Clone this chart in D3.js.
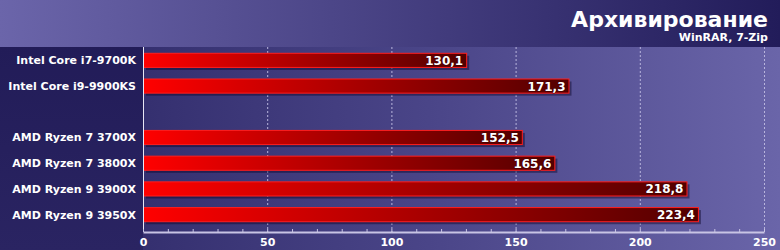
<!DOCTYPE html>
<html>
<head>
<meta charset="utf-8">
<script src="https://cdn.jsdelivr.net/npm/d3@7"></script>
<style>
  body { margin: 0; background: #221c5a; }
  svg { display: block; }
  text { font-family: "DejaVu Sans", Verdana, sans-serif; font-weight: bold; }
</style>
</head>
<body>
<div id="chart"></div>
<script>
var categories = ["Intel Core i7-9700K", "Intel Core i9-9900KS",
                  "AMD Ryzen 7 3700X", "AMD Ryzen 7 3800X",
                  "AMD Ryzen 9 3900X", "AMD Ryzen 9 3950X"];
var values = [130.1, 171.3, 152.5, 165.6, 218.8, 223.4];
var groupBreaks = [2];            // empty slot goes before this index
var axisTicks = [0, 50, 100, 150, 200, 250];
var title = "Архивирование";
var subtitle = "WinRAR, 7-Zip";

var width = 780, height = 250,
    margin = {top: 47, right: 16, bottom: 23, left: 143};

// slots with a spacer between the groups
var slots = [];
categories.forEach(function(c, i) {
  if (groupBreaks.indexOf(i) >= 0) slots.push("__gap" + i);
  slots.push(c);
});

var x = d3.scaleLinear().domain([0, 250]).range([margin.left, width - margin.right]);
var y = d3.scaleBand().domain(slots)
    .range([margin.top, height - margin.bottom])
    .paddingInner(0.45).paddingOuter(0.225);

var fmt = function(v) { return d3.format(".1f")(v).replace(".", ","); };

var svg = d3.select("#chart").append("svg")
    .attr("width", width).attr("height", height);

var defs = svg.append("defs");

function lin(id, stops, x2, y2) {
  var g = defs.append("linearGradient").attr("id", id)
    .attr("x1", 0).attr("y1", 0).attr("x2", x2).attr("y2", y2);
  stops.forEach(function(s) {
    g.append("stop").attr("offset", s[0]).attr("stop-color", s[1]);
  });
}
lin("hdr", [[0, "#6b65aa"], [1, "#221c5a"]], 1, 0);
lin("plot", [[0, "#2a2563"], [0.55, "#4a4588"], [1, "#6a65a9"]], 1, 0);
lin("lab", [[0, "#221c58"], [1, "#2a2462"]], 0, 1);
lin("bar", [[0, "#ff0000"], [0.5, "#a80000"], [1, "#520000"]], 1, 0);

// backgrounds
svg.append("rect").attr("width", width).attr("height", height).attr("fill", "url(#plot)");
svg.append("rect").attr("width", margin.left).attr("y", margin.top)
  .attr("height", height - margin.top).attr("fill", "url(#lab)");
svg.append("rect").attr("width", width).attr("height", margin.top).attr("fill", "url(#hdr)");

// title
svg.append("text").attr("x", width - 12).attr("y", 27)
  .attr("text-anchor", "end").attr("fill", "#fff")
  .style("font-size", "22px").text(title);
svg.append("text").attr("x", width - 12).attr("y", 41)
  .attr("text-anchor", "end").attr("fill", "#fff")
  .style("font-size", "11px").text(subtitle);

// gridlines
var axisY = height - margin.bottom + 5;
svg.append("g").selectAll("line").data(axisTicks.slice(1)).enter().append("line")
  .attr("x1", function(d) { return x(d) + 0.5; })
  .attr("x2", function(d) { return x(d) + 0.5; })
  .attr("y1", margin.top).attr("y2", axisY)
  .attr("stroke", "#b8b4dc").attr("stroke-dasharray", "2,2");

// bars
var rows = svg.append("g").selectAll("g").data(categories).enter().append("g")
  .attr("transform", function(d) { return "translate(0," + y(d) + ")"; });

rows.append("rect")
  .attr("x", x(0) + 3).attr("y", 3)
  .attr("width", function(d, i) { return x(values[i]) - x(0); })
  .attr("height", y.bandwidth())
  .attr("fill", "rgba(10,5,40,0.45)");

rows.append("rect")
  .attr("x", x(0) + 0.5).attr("y", 0.5)
  .attr("width", function(d, i) { return x(values[i]) - x(0); })
  .attr("height", y.bandwidth())
  .attr("fill", "url(#bar)").attr("stroke", "#ff1e1e").attr("stroke-width", 1);

rows.append("text")
  .attr("x", function(d, i) { return x(values[i]) - 3; })
  .attr("y", y.bandwidth() / 2 + 5)
  .attr("text-anchor", "end").attr("fill", "#fff")
  .style("font-size", "12px")
  .style("paint-order", "stroke").attr("stroke", "rgba(40,0,0,0.6)").attr("stroke-width", 1)
  .text(function(d, i) { return fmt(values[i]); });

rows.append("text")
  .attr("x", margin.left - 7)
  .attr("y", y.bandwidth() / 2 + 4.5)
  .attr("text-anchor", "end").attr("fill", "#fff")
  .style("font-size", "11px")
  .text(function(d) { return d; });

// vertical axis line
svg.append("line").attr("x1", x(0) + 0.5).attr("x2", x(0) + 0.5)
  .attr("y1", margin.top).attr("y2", axisY)
  .attr("stroke", "#e8e6f4");

// bottom axis
var minor = svg.append("g").attr("transform", "translate(0," + axisY + ")")
  .call(d3.axisBottom(x).ticks(25).tickSize(-3).tickFormat(""));
minor.select(".domain").remove();
minor.selectAll("line").attr("stroke", "#c8c4e4");

var ax = svg.append("g").attr("transform", "translate(0," + axisY + ")")
  .call(d3.axisBottom(x).tickValues(axisTicks).tickSize(0).tickPadding(6));
ax.select(".domain").attr("stroke", "#c8c4e4").attr("stroke-width", 2);
ax.selectAll("text").attr("fill", "#fff").style("font-size", "11px")
  .style("font-family", "DejaVu Sans, Verdana, sans-serif").style("font-weight", "bold");
</script>
</body>
</html>
